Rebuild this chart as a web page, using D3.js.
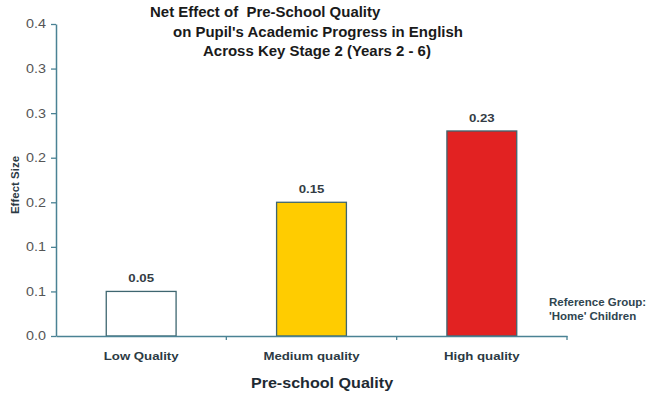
<!DOCTYPE html>
<html>
<head>
<meta charset="utf-8">
<script src="https://cdn.jsdelivr.net/npm/d3@7"></script>
<style>
  html, body { margin: 0; padding: 0; background: #fff; }
  svg { display: block; font-family: "Liberation Sans", Arial, sans-serif; }
  svg text { white-space: pre; }
</style>
</head>
<body>
<svg id="chart" width="652" height="396"></svg>
<script>
// ---- data ----
const categories = ["Low Quality", "Medium quality", "High quality"];
const effectSizes = [0.05, 0.15, 0.23];
const valueLabels = ["0.05", "0.15", "0.23"];
const barColors = ["#ffffff", "#ffcc00", "#e22222"];
const yTicks = [0, 0.05, 0.1, 0.15, 0.2, 0.25, 0.3, 0.35];
const yTickLabels = ["0.0", "0.1", "0.1", "0.2", "0.2", "0.3", "0.3", "0.4"];
const titleLines = ["Net Effect of  Pre-School Quality", "on Pupil's Academic Progress in English", "Across Key Stage 2 (Years 2 - 6)"];
const noteLines = ["Reference Group:", "'Home' Children"];

// ---- layout ----
const svg = d3.select("#chart");
const K = 1.15; // horizontal stretch of the reference text
const x0 = 56, x1 = 567, yTop = 24, yBot = 336;
const axisColor = "#4a8294";

const x = d3.scaleBand().domain(categories).range([x0, x1]).paddingInner(0.59).paddingOuter(0.295);
const xb = d3.scaleBand().domain(categories).range([x0, x1]).padding(0);
const y = d3.scaleLinear().domain([0, 0.35]).range([yBot, yTop]);

function stretchedText(g, tx, ty, str, anchor, size, weight, fill, k) {
  return g.append("text")
    .attr("transform", `translate(${tx},${ty}) scale(${k},1)`)
    .attr("text-anchor", anchor)
    .attr("font-size", size)
    .attr("font-weight", weight)
    .attr("fill", fill)
    .text(str);
}

// title
const titleX = [150, 173, 203];
const titleY = [17, 37, 56];
titleLines.forEach((t, i) => stretchedText(svg, titleX[i], titleY[i], t, "start", 14, "bold", "#1a1a1a", 1.07));

// bars
svg.selectAll("rect.bar").data(effectSizes).join("rect")
  .attr("class", "bar")
  .attr("x", (d, i) => x(categories[i]))
  .attr("width", x.bandwidth())
  .attr("y", d => y(d))
  .attr("height", d => y(0) - y(d))
  .attr("fill", (d, i) => barColors[i])
  .attr("stroke", "#3e6670")
  .attr("stroke-width", 1.3);

// value labels
effectSizes.forEach((d, i) => {
  stretchedText(svg, x(categories[i]) + x.bandwidth() / 2, y(d) - 9, valueLabels[i], "middle", 11.5, "bold", "#333c44", K);
});

// y axis
const yAxisG = svg.append("g").attr("transform", `translate(${x0},0)`)
  .call(d3.axisLeft(y).tickValues(yTicks).tickSize(5).tickSizeOuter(0).tickFormat((d, i) => yTickLabels[i]));
yAxisG.select(".domain").attr("stroke", axisColor).attr("stroke-width", 1.5);
yAxisG.selectAll(".tick line").attr("stroke", axisColor).attr("stroke-width", 1.3);
yAxisG.selectAll(".tick text").remove();
yTicks.forEach((t, i) => stretchedText(yAxisG, -10, y(t) + 4.4, yTickLabels[i], "end", 12.5, "normal", "#555", K));

// x axis
const xAxisG = svg.append("g").attr("transform", `translate(0,${yBot})`)
  .call(d3.axisBottom(xb).tickSize(0).tickSizeOuter(0).tickFormat(""));
xAxisG.select(".domain").attr("stroke", axisColor).attr("stroke-width", 1.5);
xAxisG.selectAll(".tick").remove();
const xBoundaries = categories.map(c => xb(c) + xb.bandwidth());
xAxisG.selectAll("line.xt").data(xBoundaries).join("line")
  .attr("class", "xt")
  .attr("x1", d => d).attr("x2", d => d)
  .attr("y1", 0).attr("y2", 4)
  .attr("stroke", axisColor).attr("stroke-width", 1.3);

// category labels
categories.forEach(c => stretchedText(svg, x(c) + x.bandwidth() / 2, 360, c, "middle", 11.5, "bold", "#2c3a44", K));

// axis titles
stretchedText(svg, 322, 388, "Pre-school Quality", "middle", 14, "bold", "#1e2a33", K);
svg.append("text")
  .attr("transform", `translate(19,185) rotate(-90)`)
  .attr("text-anchor", "middle")
  .attr("font-size", 11.5)
  .attr("font-weight", "bold")
  .attr("fill", "#2c3a44")
  .text("Effect Size");

// reference note
noteLines.forEach((t, i) => stretchedText(svg, 549, 306 + i * 14, t, "start", 10, "bold", "#2f4550", K));
</script>
</body>
</html>
